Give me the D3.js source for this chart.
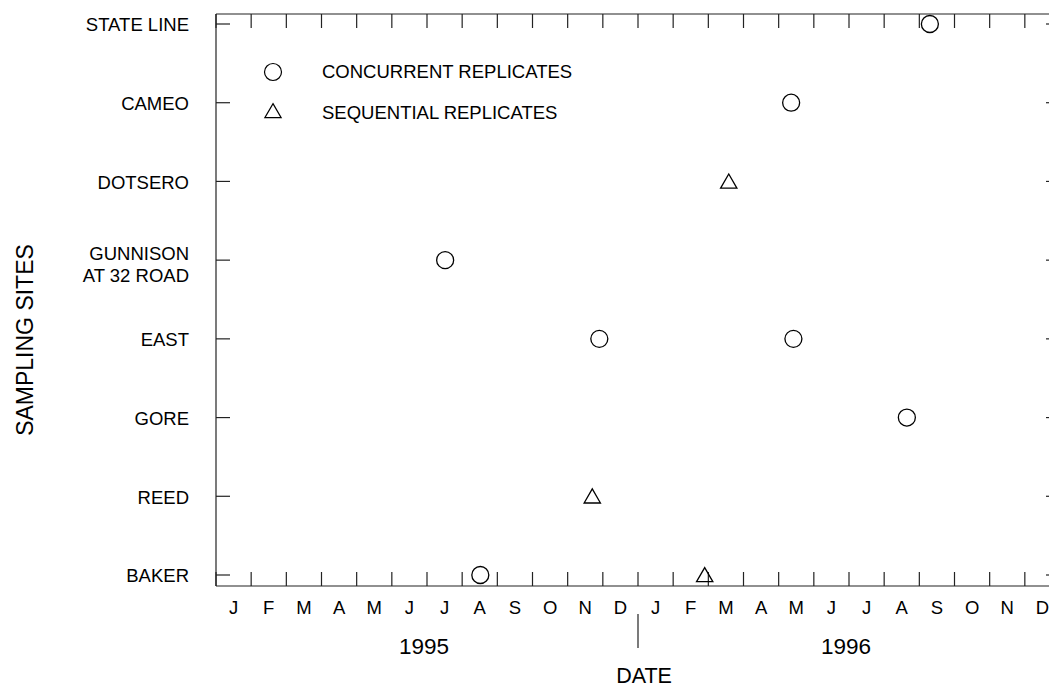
<!DOCTYPE html>
<html>
<head>
<meta charset="utf-8">
<script src="https://cdn.jsdelivr.net/npm/d3@7"></script>
<style>
  body { margin: 0; background: #fff; }
  text { font-family: "Liberation Sans", Arial, sans-serif; fill: #000; }
</style>
</head>
<body>
<div id="chart"></div>
<script>
// sites, bottom to top
var sites = ["BAKER", "REED", "GORE", "EAST", "GUNNISON\nAT 32 ROAD", "DOTSERO", "CAMEO", "STATE LINE"];
var monthLabels = ["J", "F", "M", "A", "M", "J", "J", "A", "S", "O", "N", "D"];
var years = ["1995", "1996"];

// replicate samples
var concurrent = [
  {site: "STATE LINE", date: "1996-09-10"},
  {site: "CAMEO", date: "1996-05-12"},
  {site: "GUNNISON\nAT 32 ROAD", date: "1995-07-17"},
  {site: "EAST", date: "1995-11-28"},
  {site: "EAST", date: "1996-05-14"},
  {site: "GORE", date: "1996-08-21"},
  {site: "BAKER", date: "1995-08-17"}
];
var sequential = [
  {site: "DOTSERO", date: "1996-03-19"},
  {site: "REED", date: "1995-11-22"},
  {site: "BAKER", date: "1996-02-27"}
];

var W = 1049, H = 689;
var margin = {top: 14, left: 216, bottom: 586, right: 1060};

var svg = d3.select("#chart").append("svg")
    .attr("width", W).attr("height", H);

// months since Jan 1995, each month same width
function monthPos(s) {
  var p = s.split("-").map(Number);
  var days = new Date(p[0], p[1], 0).getDate();
  return (p[0] - 1995) * 12 + (p[1] - 1) + (p[2] - 1) / days;
}

var x = d3.scaleLinear().domain([0, 24]).range([margin.left, margin.right]);
var y = d3.scalePoint().domain(sites).range([575, 24]);

var tickLen = 14;
var monthTicks = d3.range(0, 25);

// frame lines
var g = svg.append("g").attr("stroke", "#222").attr("stroke-width", 1.2);
g.append("line").attr("x1", margin.left).attr("x2", margin.right)
  .attr("y1", margin.top).attr("y2", margin.top);
g.append("line").attr("x1", margin.left).attr("x2", margin.right)
  .attr("y1", margin.bottom).attr("y2", margin.bottom);
g.append("line").attr("x1", margin.left).attr("x2", margin.left)
  .attr("y1", margin.top).attr("y2", margin.bottom);
g.append("line").attr("x1", margin.right).attr("x2", margin.right)
  .attr("y1", margin.top).attr("y2", margin.bottom);

// month ticks top and bottom
g.selectAll(".tb").data(monthTicks).enter().append("line")
  .attr("x1", function(d) { return x(d); }).attr("x2", function(d) { return x(d); })
  .attr("y1", margin.bottom).attr("y2", margin.bottom - tickLen);
g.selectAll(".tt").data(monthTicks).enter().append("line")
  .attr("x1", function(d) { return x(d); }).attr("x2", function(d) { return x(d); })
  .attr("y1", margin.top).attr("y2", margin.top + tickLen);

// site ticks left and right
g.selectAll(".tl").data(sites).enter().append("line")
  .attr("x1", margin.left).attr("x2", margin.left + tickLen)
  .attr("y1", function(d) { return y(d); }).attr("y2", function(d) { return y(d); });
g.selectAll(".tr").data(sites).enter().append("line")
  .attr("x1", margin.right).attr("x2", margin.right - tickLen)
  .attr("y1", function(d) { return y(d); }).attr("y2", function(d) { return y(d); });

// month labels
var allMonths = d3.range(24);
svg.selectAll(".ml").data(allMonths).enter().append("text")
  .attr("x", function(d) { return x(d + 0.5); })
  .attr("y", 614)
  .attr("text-anchor", "middle")
  .style("font-size", "18.5px")
  .text(function(d) { return monthLabels[d % 12]; });

// year labels and separator
svg.selectAll(".yl").data(years).enter().append("text")
  .attr("x", function(d, i) { return x(i * 12 + 6) - 3; })
  .attr("y", 654)
  .attr("text-anchor", "middle")
  .style("font-size", "22.5px")
  .text(function(d) { return d; });
svg.append("line").attr("x1", x(12)).attr("x2", x(12))
  .attr("y1", 614).attr("y2", 648)
  .attr("stroke", "#222").attr("stroke-width", 1.2);

// site labels
svg.selectAll(".sl").data(sites).enter().append("text")
  .attr("x", 189)
  .attr("y", function(d) { return y(d); })
  .attr("text-anchor", "end")
  .style("font-size", "18.5px")
  .each(function(d) {
    var lines = d.split("\n");
    var t = d3.select(this);
    lines.forEach(function(l, i) {
      t.append("tspan").attr("x", 189)
        .attr("dy", i === 0 ? (lines.length > 1 ? "0em" : "0.4em") : "1.2em")
        .text(l);
    });
  });

// axis titles
svg.append("text").attr("x", x(12) + 6).attr("y", 683)
  .attr("text-anchor", "middle").style("font-size", "21.5px").text("DATE");
svg.append("text")
  .attr("transform", "translate(33,340) rotate(-90)")
  .attr("text-anchor", "middle").style("font-size", "23px").text("SAMPLING SITES");

// markers
var triangle = d3.symbol().type(d3.symbolTriangle).size(115);

svg.selectAll(".c").data(concurrent).enter().append("circle")
  .attr("cx", function(d) { return x(monthPos(d.date)); })
  .attr("cy", function(d) { return y(d.site); })
  .attr("r", 8.5)
  .attr("fill", "none").attr("stroke", "#000").attr("stroke-width", 1.3);

svg.selectAll(".s").data(sequential).enter().append("path")
  .attr("d", triangle)
  .attr("transform", function(d) {
    return "translate(" + x(monthPos(d.date)) + "," + (y(d.site) + 2) + ")";
  })
  .attr("fill", "none").attr("stroke", "#000").attr("stroke-width", 1.3);

// legend
var legend = svg.append("g");
legend.append("circle").attr("cx", 273).attr("cy", 72).attr("r", 8.5)
  .attr("fill", "none").attr("stroke", "#000").attr("stroke-width", 1.2);
legend.append("path").attr("d", triangle)
  .attr("transform", "translate(273,113)")
  .attr("fill", "none").attr("stroke", "#000").attr("stroke-width", 1.2);
legend.append("text").attr("x", 322).attr("y", 72).attr("dy", "0.35em")
  .style("font-size", "18.5px").text("CONCURRENT REPLICATES");
legend.append("text").attr("x", 322).attr("y", 113).attr("dy", "0.35em")
  .style("font-size", "18.5px").text("SEQUENTIAL REPLICATES");
</script>
</body>
</html>
